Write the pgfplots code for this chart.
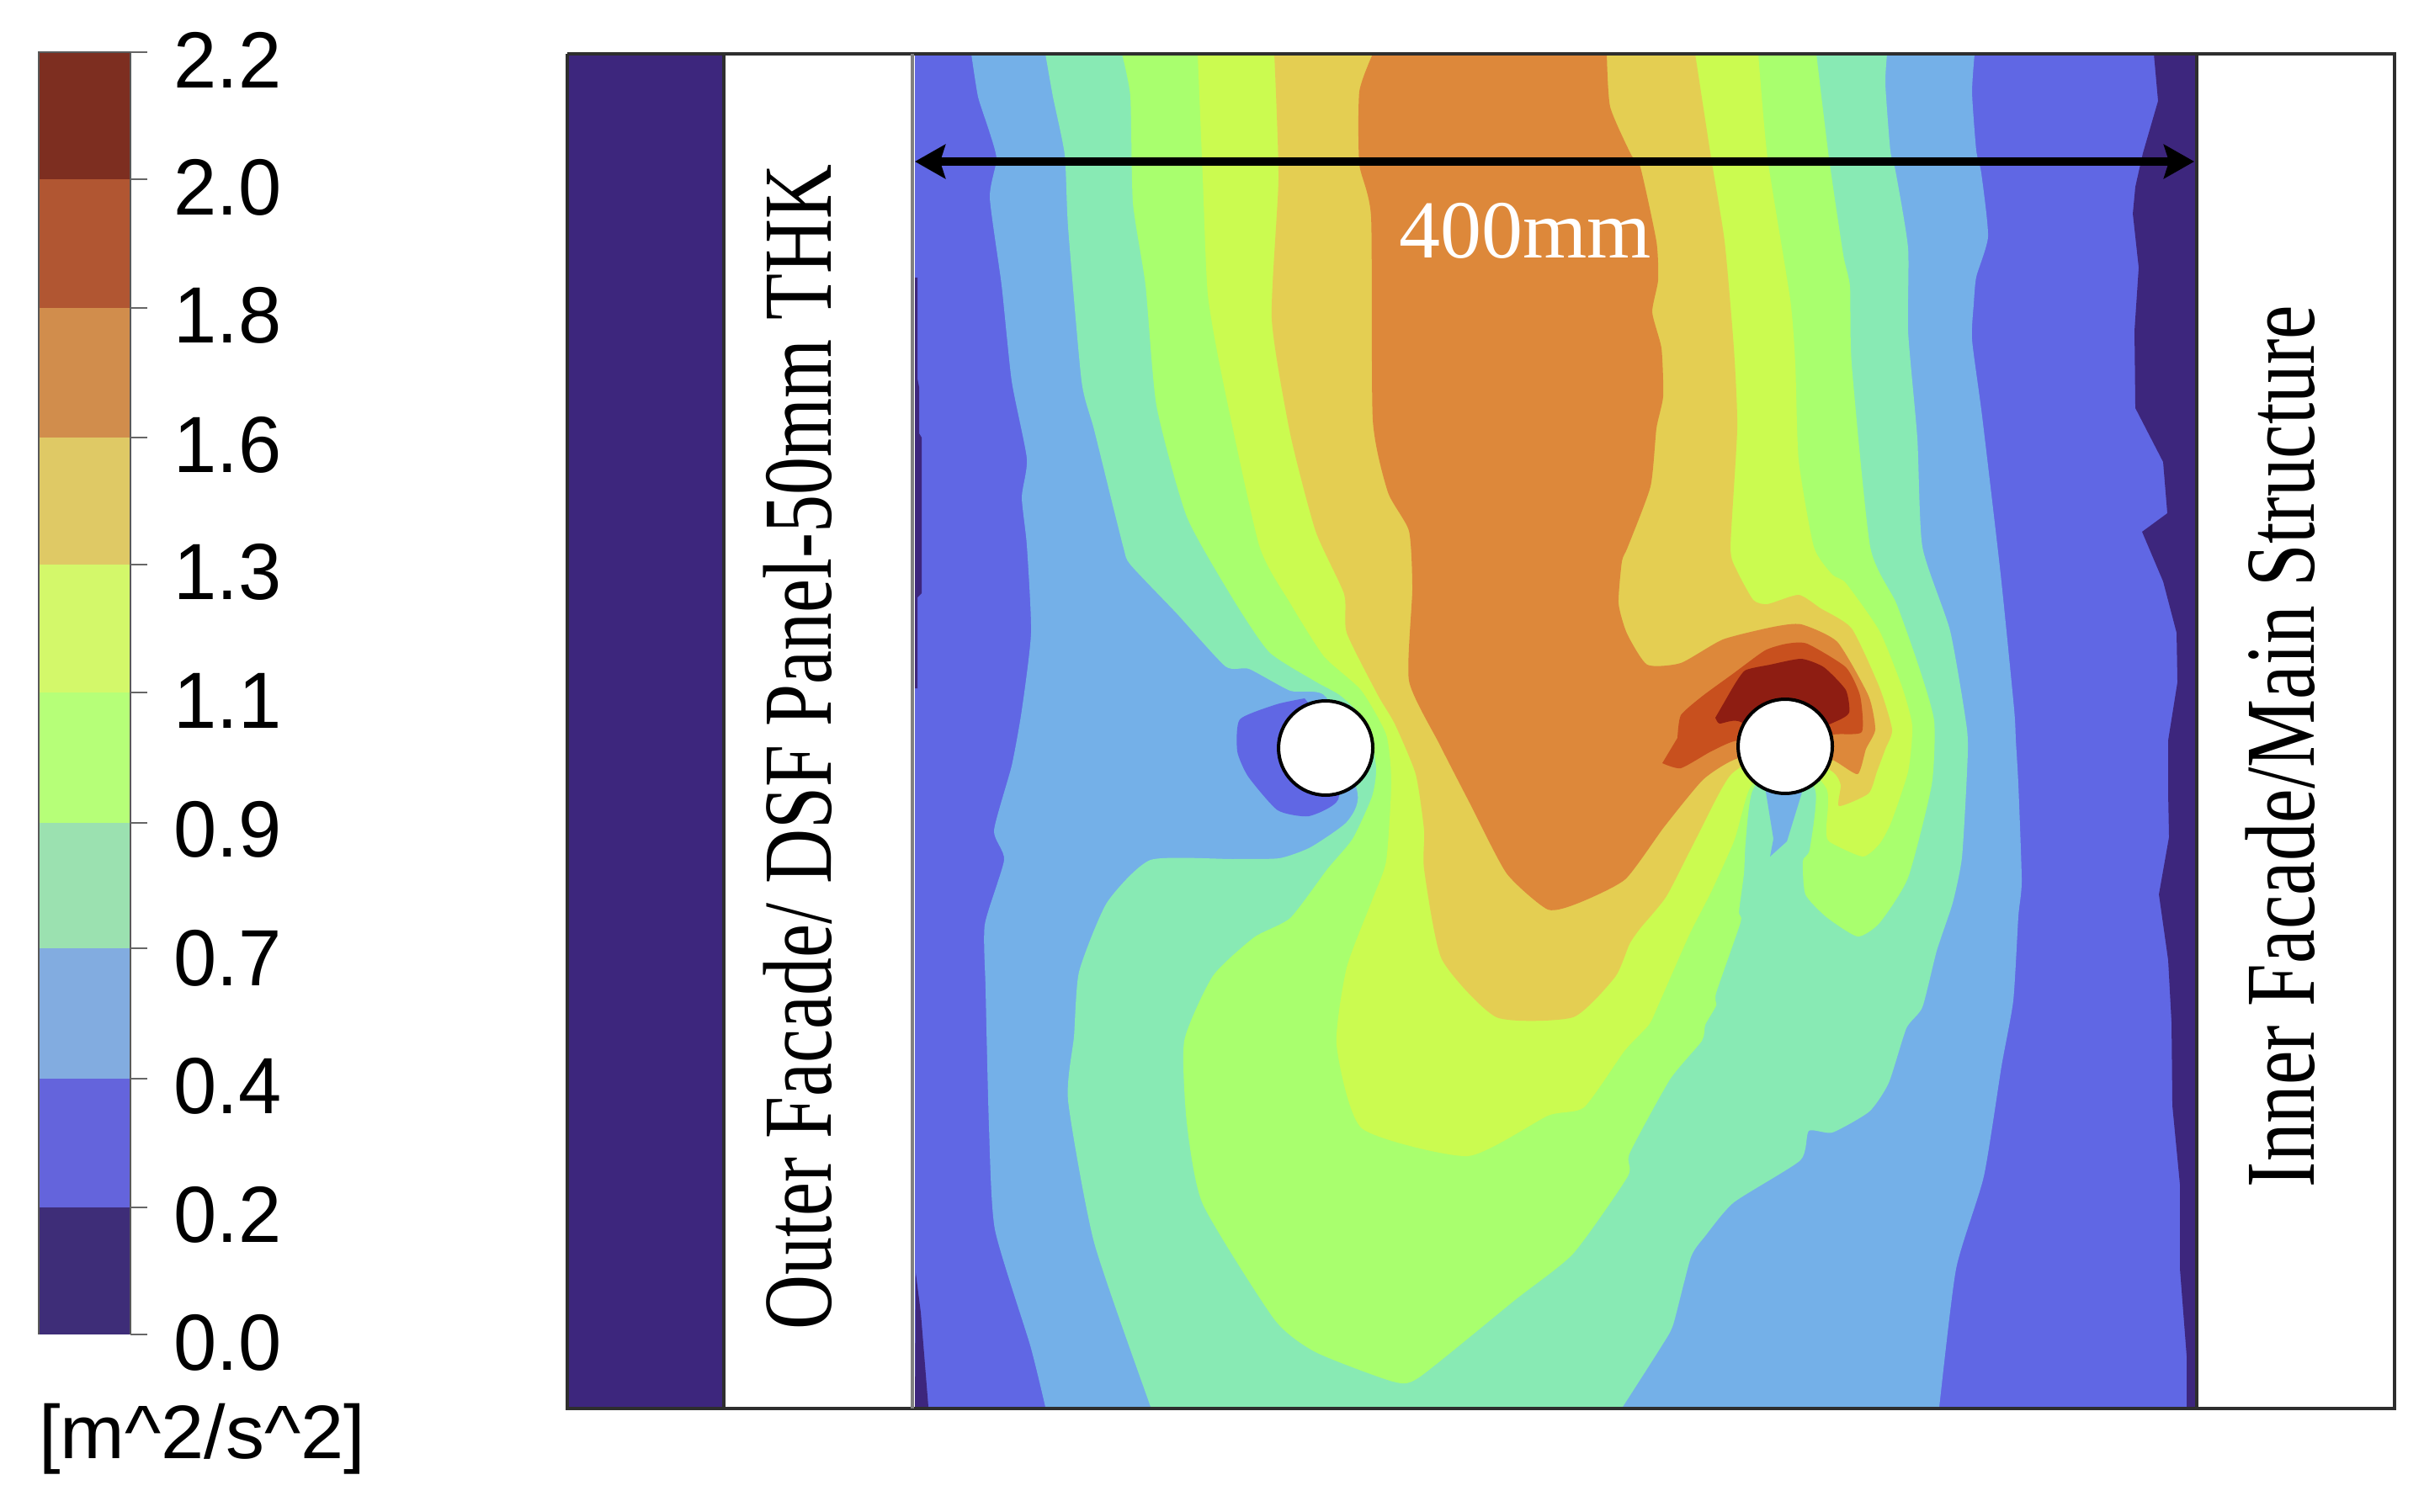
\documentclass[border=0pt]{standalone}
\usepackage{pgfplots}
\usepackage{fontspec}
\usepackage{graphicx}
\pgfplotsset{compat=1.18}
\usetikzlibrary{arrows.meta}
\setmainfont{Liberation Sans}
\newfontfamily\serifface{Liberation Serif}
\definecolor{c0}{HTML}{3D267D}
\definecolor{c1}{HTML}{6067E4}
\definecolor{c2}{HTML}{74B0E8}
\definecolor{c3}{HTML}{88EAB4}
\definecolor{c4}{HTML}{A9FF6E}
\definecolor{c5}{HTML}{CBFB50}
\definecolor{c6}{HTML}{E4CE52}
\definecolor{c7}{HTML}{DD883A}
\definecolor{c8}{HTML}{C8501E}
\definecolor{c9}{HTML}{8E1D12}
\definecolor{b0}{HTML}{3E2D78}
\definecolor{b1}{HTML}{6464DC}
\definecolor{b2}{HTML}{82ACE0}
\definecolor{b3}{HTML}{9BE1B0}
\definecolor{b4}{HTML}{B6FF78}
\definecolor{b5}{HTML}{D3F86A}
\definecolor{b6}{HTML}{DFC965}
\definecolor{b7}{HTML}{D18D4C}
\definecolor{b8}{HTML}{B15632}
\definecolor{b9}{HTML}{7D2E20}
\definecolor{frame}{HTML}{2E2E2E}
\newcommand{\ticktext}[2]{\node[anchor=base east,inner sep=0pt,text=black] at (axis cs:335,#1) {\fontsize{23pt}{24pt}\selectfont\scalebox{1}[1.03]{#2}};}
\begin{document}
\begin{tikzpicture}
\path[use as bounding box] (0,0) rectangle (720pt,449.25pt);
\begin{axis}[
  at={(0,0)},anchor=south west,
  scale only axis,width=720pt,height=449.25pt,
  xmin=0,xmax=2880,ymin=0,ymax=1797,y dir=reverse,
  hide axis,clip=false,
  every axis plot/.append style={forget plot},
  lvl/.style={draw=none,fill=#1,smooth,tension=0.35}
]
% colour bar
\addplot[draw=none,fill=b9] coordinates {(46,62)(155,62)(155,213)(46,213)} --cycle;
\addplot[draw=none,fill=b8] coordinates {(46,213)(155,213)(155,366)(46,366)} --cycle;
\addplot[draw=none,fill=b7] coordinates {(46,366)(155,366)(155,520)(46,520)} --cycle;
\addplot[draw=none,fill=b6] coordinates {(46,520)(155,520)(155,671)(46,671)} --cycle;
\addplot[draw=none,fill=b5] coordinates {(46,671)(155,671)(155,823)(46,823)} --cycle;
\addplot[draw=none,fill=b4] coordinates {(46,823)(155,823)(155,978)(46,978)} --cycle;
\addplot[draw=none,fill=b3] coordinates {(46,978)(155,978)(155,1127)(46,1127)} --cycle;
\addplot[draw=none,fill=b2] coordinates {(46,1127)(155,1127)(155,1282)(46,1282)} --cycle;
\addplot[draw=none,fill=b1] coordinates {(46,1282)(155,1282)(155,1435)(46,1435)} --cycle;
\addplot[draw=none,fill=b0] coordinates {(46,1435)(155,1435)(155,1586)(46,1586)} --cycle;
\addplot[draw=black!65,line width=0.7pt] coordinates {(46,1586)(46,62)(155,62)(155,1586)};
\addplot[draw=black!60,line width=0.5pt] coordinates {(155,62)(175,62)};
\addplot[draw=black!60,line width=0.5pt] coordinates {(155,213)(175,213)};
\addplot[draw=black!60,line width=0.5pt] coordinates {(155,366)(175,366)};
\addplot[draw=black!60,line width=0.5pt] coordinates {(155,520)(175,520)};
\addplot[draw=black!60,line width=0.5pt] coordinates {(155,671)(175,671)};
\addplot[draw=black!60,line width=0.5pt] coordinates {(155,823)(175,823)};
\addplot[draw=black!60,line width=0.5pt] coordinates {(155,978)(175,978)};
\addplot[draw=black!60,line width=0.5pt] coordinates {(155,1127)(175,1127)};
\addplot[draw=black!60,line width=0.5pt] coordinates {(155,1282)(175,1282)};
\addplot[draw=black!60,line width=0.5pt] coordinates {(155,1435)(175,1435)};
\addplot[draw=black!60,line width=0.5pt] coordinates {(155,1586)(175,1586)};
% structure
\addplot[draw=none,fill=c0] coordinates {(674,64)(860,64)(860,1672)(674,1672)} --cycle;
\addplot[draw=none,fill=white] coordinates {(860,64)(1087,64)(1087,1672)(860,1672)} --cycle;
\addplot[draw=none,fill=c1] coordinates {(1087,64)(2608,64)(2608,1672)(1087,1672)} --cycle;
% darkest patches
\addplot[draw=none,fill=c0] coordinates {(2559,64)(2564,120)(2546,182)(2537,222)(2534,254)(2541,318)(2536,393)(2537,485)(2570,549)(2575,610)(2545,632)(2570,691)(2586,752)(2587,811)(2576,880)(2576,943)(2577,995)(2565,1063)(2576,1141)(2580,1215)(2581,1314)(2590,1408)(2590,1508)(2598,1612)(2598,1672)(2608,1672)(2608,64)} --cycle;
\addplot[draw=none,fill=c0] coordinates {(1087,330)(1090,330)(1090,450)(1092,460)(1092,515)(1095,520)(1095,705)(1090,710)(1090,818)(1087,818)} --cycle;
\addplot[draw=none,fill=c0] coordinates {(1088,1513)(1094,1560)(1103,1672)(1087,1672)} --cycle;
% level 0.4
\addplot[lvl=c2] coordinates {(1154,64)(1162,115)(1175,155)(1184,189)(1176,235)(1190,339)(1202,453)(1220,545)(1214,591)(1220,648)(1225,752)(1214,844)(1202,910)(1181,987)(1193,1022)(1170,1099)(1171,1176)(1175,1339)(1182,1461)(1224,1599)(1242,1672)(1244,1680)(1249,1700)(2301,1700)(2303,1680)(2304,1672)(2324,1508)(2357,1398)(2378,1267)(2392,1189)(2398,1089)(2402,1047)(2398,932)(2395,880)(2393,843)(2377,683)(2355,495)(2343,404)(2345,361)(2348,329)(2362,281)(2354,206)(2348,179)(2343,110)(2346,64)} --cycle;
\addplot[lvl=c1] coordinates {(1550,830)(1517,837)(1473,855)(1470,893)(1483,923)(1518,963)(1555,970)(1590,950)(1590,880)} --cycle;
% level 0.7
\addplot[lvl=c3] coordinates {(1242,64)(1251,115)(1265,184)(1269,270)(1285,453)(1300,511)(1334,648)(1343,671)(1398,729)(1456,792)(1484,795)(1533,821)(1576,829)(1613,943)(1600,977)(1557,1007)(1520,1020)(1465,1021)(1367,1022)(1315,1073)(1282,1155)(1276,1232)(1269,1308)(1300,1477)(1367,1672)(1370,1680)(1377,1700)(1910,1700)(1923,1680)(1928,1672)(1974,1600)(1988,1574)(2009,1494)(2026,1469)(2060,1429)(2139,1379)(2149,1344)(2177,1346)(2221,1321)(2244,1287)(2265,1222)(2284,1197)(2301,1130)(2320,1073)(2331,1019)(2337,917)(2337,867)(2317,750)(2284,650)(2278,521)(2267,394)(2267,295)(2252,203)(2246,180)(2240,100)(2242,64)} --cycle;
\addplot[draw=none,fill=c2] coordinates {(2097,935)(2143,935)(2123,1000)(2103,1018)(2107,997)} --cycle;
% level 0.9
\addplot[lvl=c4] coordinates {(1333,64)(1343,115)(1346,241)(1361,339)(1374,482)(1410,614)(1465,712)(1508,775)(1563,810)(1593,827)(1625,860)(1635,913)(1630,947)(1607,997)(1577,1033)(1533,1091)(1490,1114)(1441,1160)(1407,1237)(1410,1334)(1429,1431)(1514,1568)(1563,1607)(1655,1642)(1686,1637)(1800,1545)(1869,1490)(1934,1398)(1936,1371)(1984,1283)(2022,1237)(2026,1218)(2039,1195)(2039,1180)(2068,1096)(2066,1084)(2072,1038)(2074,1000)(2082,940)(2121,887)(2157,940)(2150,1010)(2142,1023)(2145,1063)(2170,1090)(2207,1113)(2233,1097)(2267,1043)(2295,933)(2298,857)(2280,793)(2253,717)(2222,650)(2200,433)(2198,341)(2190,303)(2173,188)(2158,64)} --cycle;
% level 1.1
\addplot[lvl=c5] coordinates {(1423,64)(1429,212)(1435,350)(1453,453)(1496,648)(1533,717)(1573,780)(1617,820)(1647,873)(1653,930)(1647,1023)(1631,1068)(1600,1150)(1588,1242)(1618,1341)(1744,1374)(1839,1326)(1882,1316)(1930,1249)(1959,1218)(1970,1195)(2007,1111)(2033,1060)(2060,1000)(2070,965)(2080,935)(2121,887)(2170,937)(2170,983)(2173,1000)(2213,1018)(2233,1003)(2247,977)(2267,917)(2272,863)(2260,817)(2233,750)(2193,693)(2177,683)(2155,650)(2137,547)(2133,433)(2127,356)(2100,188)(2089,64)} --cycle;
% level 1.3
\addplot[lvl=c6] coordinates {(1514,64)(1519,212)(1511,379)(1533,516)(1563,631)(1597,706)(1600,752)(1637,826)(1657,860)(1682,920)(1692,987)(1692,1033)(1713,1140)(1778,1209)(1869,1209)(1919,1161)(1936,1122)(1949,1103)(1980,1065)(2017,993)(2057,920)(2121,887)(2177,917)(2187,933)(2185,958)(2220,943)(2230,917)(2240,890)(2248,867)(2233,817)(2200,747)(2163,723)(2137,707)(2100,718)(2083,713)(2063,677)(2056,650)(2064,509)(2060,414)(2049,287)(2033,188)(2014,64)} --cycle;
% level 1.6
\addplot[lvl=c7] coordinates {(1631,64)(1615,109)(1615,195)(1629,258)(1631,499)(1649,585)(1674,631)(1678,700)(1674,809)(1710,884)(1747,956)(1790,1038)(1839,1081)(1876,1073)(1931,1045)(1977,983)(2023,927)(2060,903)(2121,887)(2177,903)(2207,920)(2217,890)(2228,867)(2220,827)(2183,763)(2140,742)(2107,745)(2047,760)(1997,788)(1957,790)(1933,753)(1923,717)(1927,667)(1934,650)(1961,578)(1968,509)(1976,471)(1974,414)(1963,371)(1970,333)(1968,287)(1949,199)(1938,184)(1913,127)(1909,64)} --cycle;
% level 1.8
\addplot[lvl=c8] coordinates {(1975,907)(1997,913)(2033,893)(2065,880)(2121,887)(2178,873)(2212,870)(2210,827)(2193,793)(2147,765)(2123,765)(2097,773)(2060,800)(2023,827)(1997,850)(1993,877)} --cycle;
% level 2.0
\addplot[lvl=c9] coordinates {(2038,853)(2043,860)(2065,857)(2121,880)(2180,858)(2197,847)(2193,820)(2167,793)(2140,783)(2103,790)(2073,797)(2057,820)} --cycle;
% mask below the lower edge
\addplot[draw=none,fill=white] coordinates {(1087,1675)(2608,1675)(2608,1720)(1087,1720)} --cycle;
% pipes
\addplot[only marks,mark=*,mark size=14pt,mark options={fill=white,draw=black,line width=1pt}] coordinates {(1575,889)(2121,887)};
% frame
\addplot[draw=frame,line width=1pt] coordinates {(674,64)(2845,64)(2845,1674)(674,1674)(674,64)};
\addplot[draw=frame,line width=1.2pt] coordinates {(860,64)(860,1674)};
\addplot[draw=black!50,line width=1.2pt] coordinates {(1084,64)(1084,1674)};
\addplot[draw=frame,line width=1.2pt] coordinates {(2610,64)(2610,1674)};
% dimension
\addplot[draw=black,line width=2.4pt,{Stealth[length=9pt,width=10pt,inset=1.5pt]}-{Stealth[length=9pt,width=10pt,inset=1.5pt]}] coordinates {(1087,192)(2607,192)};
% text
\node[anchor=base,inner sep=0pt,text=white] at (axis cs:1812,307) {\serifface\fontsize{24.5pt}{26pt}\selectfont 400mm};
\node[rotate=90,anchor=base,inner sep=0pt,text=black] at (axis cs:987,888) {\serifface\fontsize{22.5pt}{24pt}\selectfont\scalebox{1}[1.29]{Outer Facade/ DSF Panel-50mm THK}};
\node[rotate=90,anchor=base,inner sep=0pt,text=black] at (axis cs:2749,887) {\serifface\fontsize{22.8pt}{24pt}\selectfont\scalebox{1}[1.29]{Inner Facade/Main Structure}};
\ticktext{105}{2.2}
\ticktext{256}{2.0}
\ticktext{408}{1.8}
\ticktext{561}{1.6}
\ticktext{712}{1.3}
\ticktext{865}{1.1}
\ticktext{1018}{0.9}
\ticktext{1171}{0.7}
\ticktext{1323}{0.4}
\ticktext{1476}{0.2}
\ticktext{1628}{0.0}
\node[anchor=base,inner sep=0pt,text=black] at (axis cs:240,1733) {\fontsize{23pt}{24pt}\selectfont\scalebox{1}[0.98]{[m\^{}2/s\^{}2]}};
\end{axis}
\end{tikzpicture}
\end{document}
